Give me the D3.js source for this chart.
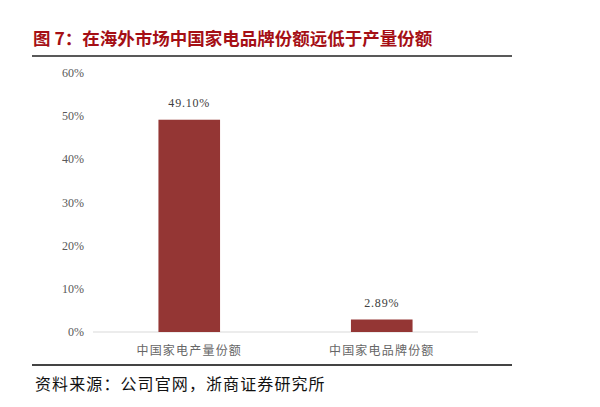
<!DOCTYPE html>
<html>
<head>
<meta charset="utf-8">
<script src="https://cdn.jsdelivr.net/npm/d3@7"></script>
<style>
  body { margin: 0; background: #fff; }
  svg { display: block; }
</style>
</head>
<body>
<div id="chart"></div>
<script>
// chart data
const categories = ["中国家电产量份额", "中国家电品牌份额"];
const shares = [49.10, 2.89];
const valueLabels = ["49.10%", "2.89%"];
const yTicks = [0, 10, 20, 30, 40, 50, 60];

const titleText = "图 7：在海外市场中国家电品牌份额远低于产量份额";
const sourceText = "资料来源：公司官网，浙商证券研究所";

const w = 600, h = 407;
const barColor = "#943634";

const svg = d3.select("#chart").append("svg")
  .attr("width", w)
  .attr("height", h);

// title + rules
svg.append("text")
  .attr("x", 33)
  .attr("y", 45)
  .attr("fill", "#a50f15")
  .style("font-family", "'Noto Sans CJK SC', sans-serif")
  .style("font-weight", "bold")
  .style("font-size", "17.5px")
  .style("white-space", "pre")
  .text(titleText);

svg.append("line")
  .attr("x1", 32).attr("x2", 512)
  .attr("y1", 56).attr("y2", 56)
  .attr("stroke", "#222").attr("stroke-width", 1.5);

svg.append("line")
  .attr("x1", 32).attr("x2", 512)
  .attr("y1", 365).attr("y2", 365)
  .attr("stroke", "#444").attr("stroke-width", 2);

svg.append("text")
  .attr("x", 35)
  .attr("y", 390)
  .attr("fill", "#111")
  .style("font-family", "'Noto Sans CJK SC', sans-serif")
  .style("font-size", "16px")
  .style("letter-spacing", "1.1px")
  .text(sourceText);

// scales
const xScale = d3.scaleBand()
  .domain(categories)
  .range([93, 478])
  .paddingInner(0.68)
  .paddingOuter(0.34);

const yScale = d3.scaleLinear()
  .domain([0, 60])
  .range([332, 72.6]);

// y axis labels (no line, no ticks)
const yAxis = d3.axisLeft(yScale)
  .tickValues(yTicks)
  .tickSize(0)
  .tickPadding(0)
  .tickFormat((d) => d + "%");

const gy = svg.append("g")
  .attr("transform", "translate(84,0)")
  .call(yAxis);
gy.select(".domain").remove();
gy.selectAll("text")
  .attr("fill", "#595959")
  .style("font-family", "'Liberation Serif', serif")
  .style("font-size", "12px");

// baseline
svg.append("line")
  .attr("x1", 93).attr("x2", 478)
  .attr("y1", yScale(0)).attr("y2", yScale(0))
  .attr("stroke", "#d9d9d9").attr("stroke-width", 1);

// x axis category labels
const xAxis = d3.axisBottom(xScale).tickSize(0).tickPadding(14);
const gx = svg.append("g")
  .attr("transform", `translate(0,${yScale(0)})`)
  .call(xAxis);
gx.select(".domain").remove();
gx.selectAll("text")
  .attr("fill", "#666")
  .style("font-family", "'Noto Sans CJK SC', sans-serif")
  .style("font-size", "12px")
  .style("letter-spacing", "1.2px");

// bars
svg.selectAll("rect.bar")
  .data(shares)
  .enter()
  .append("rect")
  .attr("class", "bar")
  .attr("x", (d, i) => xScale(categories[i]))
  .attr("y", (d) => yScale(d))
  .attr("width", xScale.bandwidth())
  .attr("height", (d) => yScale(0) - yScale(d))
  .attr("fill", barColor);

// value labels
svg.selectAll("text.val")
  .data(shares)
  .enter()
  .append("text")
  .attr("class", "val")
  .attr("x", (d, i) => xScale(categories[i]) + xScale.bandwidth() / 2)
  .attr("y", (d) => yScale(d) - 13)
  .attr("text-anchor", "middle")
  .attr("fill", "#404040")
  .style("font-family", "'Liberation Serif', serif")
  .style("font-size", "12px")
  .style("letter-spacing", "0.8px")
  .text((d, i) => valueLabels[i]);
</script>
</body>
</html>
